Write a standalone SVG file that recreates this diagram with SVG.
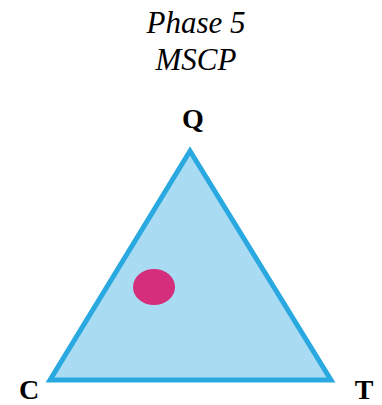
<svg xmlns="http://www.w3.org/2000/svg" width="382" height="405" viewBox="0 0 382 405">
<style>
.title{font-family:"Liberation Serif","Times New Roman",serif;font-style:italic;font-size:31px;fill:#000;text-anchor:middle}
.lbl{font-family:"Liberation Serif","Times New Roman",serif;font-weight:bold;font-size:28px;fill:#000;text-anchor:middle}
</style>
<rect width="382" height="405" fill="#ffffff"/>
<text class="title" x="196" y="33">Phase 5</text>
<text class="title" x="196" y="70">MSCP</text>
<g id="triangle">
<polygon points="190,151 50,380 331,380" fill="#a9dcf2" stroke="#29a9e0" stroke-width="5" stroke-linejoin="miter"/>
</g>
<g id="point">
<ellipse cx="154" cy="287" rx="21" ry="18" fill="#d42e7d"/>
</g>
<g id="Q"><text class="lbl" x="193" y="128">Q</text></g>
<g id="C"><text class="lbl" x="29" y="399">C</text></g>
<g id="T"><text class="lbl" x="364" y="399">T</text></g>
</svg>
